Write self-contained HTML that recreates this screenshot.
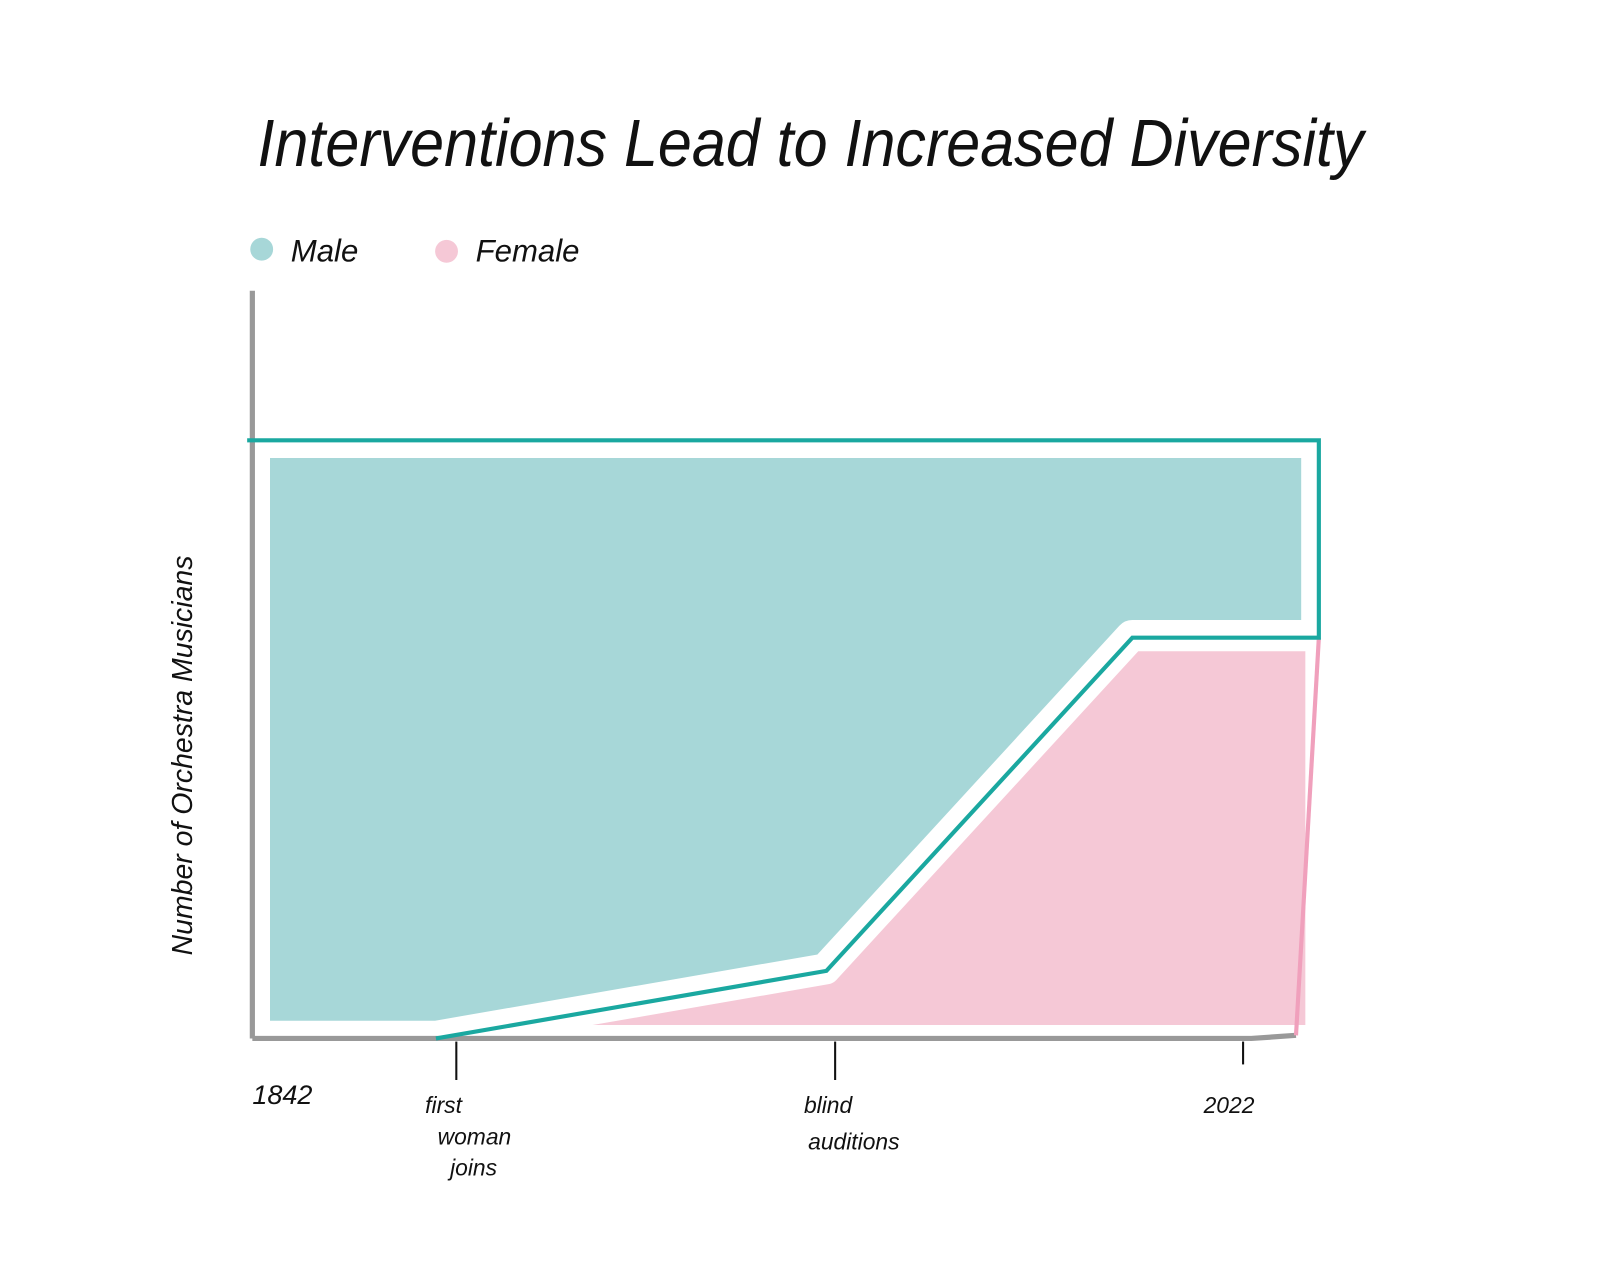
<!DOCTYPE html>
<html><head><meta charset="utf-8"><style>
html,body{margin:0;padding:0;background:#fff;}
svg{display:block;}
text{font-family:"Liberation Sans",sans-serif;fill:#111;}
</style></head><body>
<svg id="chart" width="1620" height="1261" viewBox="0 0 1560 1214.3">
<text x="248" y="160" font-size="64" font-style="italic" textLength="1065" lengthAdjust="spacingAndGlyphs">Interventions Lead to Increased Diversity</text>
<g>
<circle cx="252" cy="240" r="11" fill="#a7d7d8"></circle>
<text x="280" y="252" font-size="30" font-style="italic">Male</text>
<circle cx="430" cy="242" r="11" fill="#f5c8d6"></circle>
<text x="458" y="252" font-size="30" font-style="italic">Female</text>
</g>
<text transform="translate(185,920) rotate(-90)" font-size="28" font-style="italic" textLength="385" lengthAdjust="spacingAndGlyphs">Number of Orchestra Musicians</text>
<g id="plot"></g>
</svg>
<script>
const totalYears = [1842, 2025];
const totalValues = [100, 100];
const femaleYears = [1873.5, 1940.5, 1993, 2022, 2025];
const femaleValues = [0, 11.3, 67, 67, 67];
const tickYears = [1877, 1942, 2012];
const tickLabels = [["first","woman","joins"], ["blind","auditions"], ["2022"]];

const X0=243, X1=1270, Y0=1000, Y1=424;
function xScale(y){return X0+(y-1842)*(X1-X0)/(2025-1842);}
function yScale(v){return Y0-v*(Y0-Y1)/100;}
const NS="http://www.w3.org/2000/svg";
const plot=document.getElementById('plot');
function mk(tag,attrs){const e=document.createElementNS(NS,tag);for(const k in attrs)e.setAttribute(k,attrs[k]);plot.appendChild(e);return e;}

let mpts=[];
for(let i=0;i<totalYears.length;i++)mpts.push(xScale(totalYears[i])+','+yScale(totalValues[i]));
for(let i=femaleYears.length-1;i>=0;i--)mpts.push(xScale(femaleYears[i])+','+yScale(femaleValues[i]));
mpts.push(xScale(1842)+','+yScale(0));
const male=mk('polygon',{points:mpts.join(' '),fill:'#a7d7d8',stroke:'#fff','stroke-width':34,'stroke-linejoin':'round'});



let fpts=[];
for(let i=0;i<femaleYears.length;i++)fpts.push(xScale(femaleYears[i])+','+yScale(femaleValues[i]));
fpts.push(xScale(femaleYears[femaleYears.length-1])+','+yScale(0));
const fem=mk('polygon',{points:fpts.join(' '),fill:'#f5c8d6',stroke:'#fff','stroke-width':26,'stroke-linejoin':'round'});



const ya=mk('line',{x1:X0,y1:280,x2:X0,y2:Y0,stroke:'#999','stroke-width':5});


const xa=mk('polyline',{points:X0+','+Y0+' 1205,'+Y0+' 1248,997',fill:'none',stroke:'#999','stroke-width':5});



const pe=mk('line',{x1:xScale(2025),y1:yScale(femaleValues[femaleValues.length-1]),x2:1248,y2:997,stroke:'#f0a0bc','stroke-width':4});



let opts=[(X0-5)+','+yScale(totalValues[0])];
for(let i=0;i<totalYears.length;i++)opts.push(xScale(totalYears[i])+','+yScale(totalValues[i]));
for(let i=femaleYears.length-1;i>=0;i--)opts.push(xScale(femaleYears[i])+','+yScale(femaleValues[i]));
const ol=mk('polyline',{points:opts.join(' '),fill:'none',stroke:'#1aa8a0','stroke-width':4,'stroke-linejoin':'miter'});



for(let i=0;i<tickYears.length;i++){
  const x=xScale(tickYears[i]);
  const t=mk('line',{x1:x,y1:Y0+3,x2:x,y2:i==2?Y0+25:Y0+40,stroke:'#111','stroke-width':2});
  
  
  const lbl=tickLabels[i];
  for(let j=0;j<lbl.length;j++){
    const tx=mk('text',{x:x-(i==2?38:30)+j*(i==0?12:4),y:1072+j*(i==0?30:35),'font-size':22,'font-style':'italic'});
    tx.textContent=lbl[j];
    
    
  }
}
const st=mk('text',{x:243,y:1063,'font-size':26,'font-style':'italic'});
st.textContent='1842';


</script>
</body></html>
